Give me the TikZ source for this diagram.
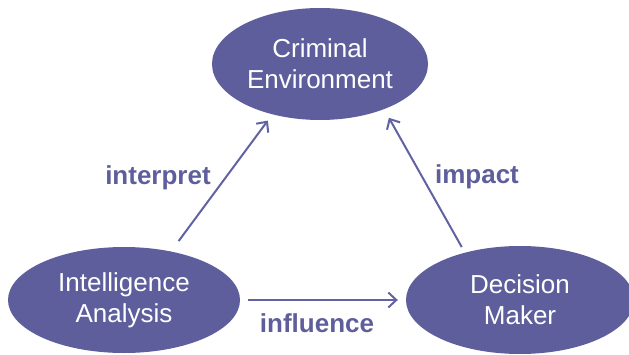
\documentclass[tikz,border=0pt]{standalone}
\usepackage{fontspec}
\setmainfont{Liberation Sans}
\usepackage{tikz}
\usetikzlibrary{arrows.meta,positioning,shapes.geometric}
\definecolor{cfill}{RGB}{94,94,156}
\definecolor{cline}{RGB}{98,98,162}

\begin{document}
\begin{tikzpicture}[x=1pt,y=1pt]
\tikzset{blob/.style={ellipse, fill=cfill, text=white, inner sep=0pt,
  align=center, font=\fontsize{26}{31}\selectfont}}
\tikzset{rel/.style={text=cfill, font=\fontsize{26}{31}\selectfont\bfseries}}
\tikzset{arr/.style={draw=cline, line width=2pt,
  -{Straight Barb[length=8pt,width=15pt,line width=2pt]}}}
\useasboundingbox (0,0) rectangle (629,354);
\node[blob, minimum width=216pt, minimum height=112pt] (ce) at (320,290)
  {Criminal\\Environment};
\node[blob, minimum width=232pt, minimum height=106pt] (ia) at (124,54)
  {Intelligence\\Analysis};
\node[blob, minimum width=228pt, minimum height=108pt] (dm) at (520,54)
  {Decision\\Maker};
\draw[arr] ([shift={(9pt,10pt)}]ia.47) -- ([shift={(-5pt,-6pt)}]ce.227);
\draw[arr] ([shift={(-5pt,5pt)}]dm.138) -- ([shift={(9pt,-7pt)}]ce.322);
\draw[arr, shorten <=8pt, shorten >=8pt] (ia.east) -- (dm.west);
\node[rel] (interp) at (158,176) {interpret};
\node[rel] (imp) at (477,177) {impact};
\node[rel] (infl) at (317,31) {influence};
\end{tikzpicture}
\end{document}
